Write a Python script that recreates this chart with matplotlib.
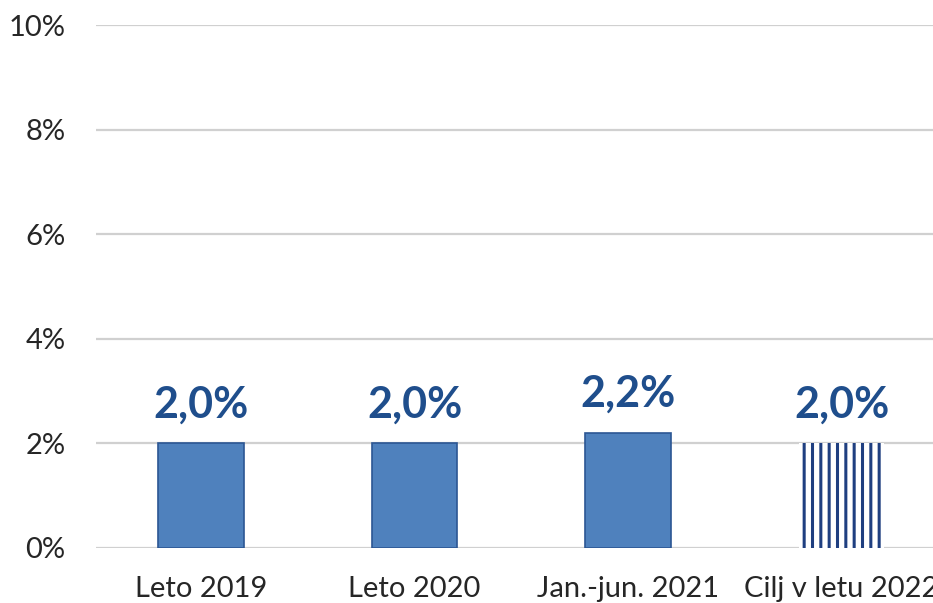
import matplotlib.pyplot as plt
from matplotlib.ticker import FuncFormatter

categories = ["Leto 2019", "Leto 2020", "Jan.-jun. 2021", "Cilj v letu 2022"]
values = [2.0, 2.0, 2.2, 2.0]
is_target = [False, False, False, True]
value_labels = ["2,0%", "2,0%", "2,2%", "2,0%"]

plt.rcParams["font.family"] = ["Lato", "DejaVu Sans"]
plt.rcParams["hatch.linewidth"] = 2.2

fig = plt.figure(figsize=(9.33, 6.03), dpi=100)
ax = fig.add_axes([96 / 933, 55 / 603, 1 - 96 / 933, 523 / 603])

x = list(range(len(categories)))
for xi, v, tgt in zip(x, values, is_target):
    if tgt:
        ax.bar(xi, v, width=0.4, color="white", edgecolor="#1f3f80",
               linewidth=0, hatch="||", zorder=3)
    else:
        ax.bar(xi, v, width=0.4, color="#4f81bd", edgecolor="#2c5693",
               linewidth=1.2, zorder=3)

for xi, v, lab in zip(x, values, value_labels):
    ax.text(xi, v + 0.36, lab, ha="center", va="bottom", fontsize=31,
            fontweight="bold", color="#1f4e8c")

ax.set_ylim(0, 10)
ax.set_yticks(range(0, 11, 2))
ax.yaxis.set_major_formatter(FuncFormatter(lambda y, _: f"{y:.0f}%"))
ax.set_xlim(-0.492, 3.428)
ax.set_xticks(x)
ax.set_xticklabels(categories)

ax.grid(axis="y", color="#d0d0d0", linewidth=1.6, zorder=0)
ax.tick_params(axis="both", length=0, labelsize=21, colors="#262626")
ax.tick_params(axis="y", pad=22)
ax.tick_params(axis="x", pad=20)
for s in ax.spines.values():
    s.set_visible(False)

fig.savefig("out.png", dpi=100)
